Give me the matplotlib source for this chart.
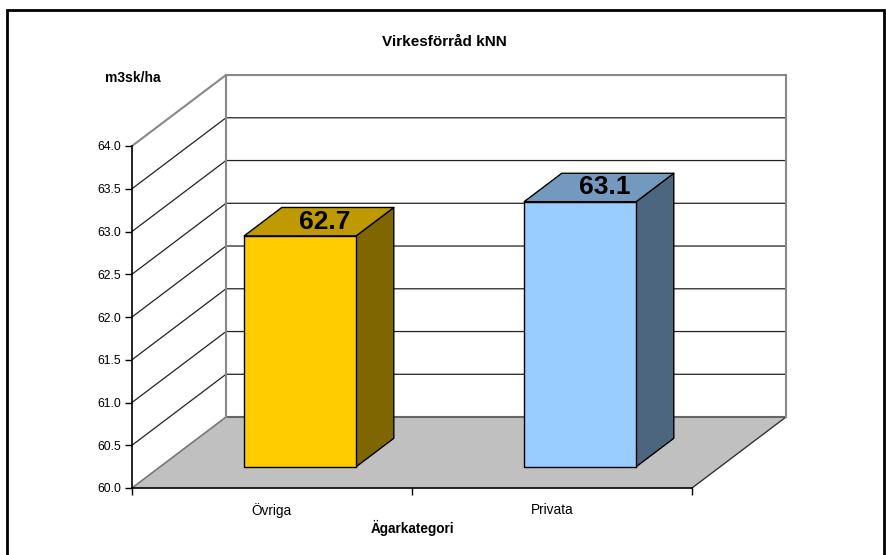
import numpy as np
import matplotlib
matplotlib.use('agg')
import matplotlib.pyplot as plt
from matplotlib.patches import Polygon, Rectangle

plt.rcParams['font.family'] = ['Liberation Sans', 'DejaVu Sans']

# data
categories = ['Övriga', 'Privata']
values = [62.7, 63.1]
front_colors = ['#FFCC00', '#99CCFF']
top_colors = ['#BF9900', '#7399BF']
side_colors = ['#806600', '#4D6680']
yticks = [60.0, 60.5, 61.0, 61.5, 62.0, 62.5, 63.0, 63.5, 64.0]

ymin, ymax = 60.0, 64.0
DX, DY = 0.3357, 0.83     # depth offset of the back wall, in data units
F0, F1 = 0.3, 0.7         # bar depth span as fraction of the full depth
HW = 0.2                  # half bar width

fig = plt.figure(figsize=(8.86, 5.55), dpi=100)
ax = fig.add_axes([132/886, 1-488/555, 560/886, 342/555])
ax.set_xlim(0, 2)
ax.set_ylim(ymin, ymax)
ax.patch.set_visible(False)
for s in ['top', 'right']:
    ax.spines[s].set_visible(False)
ax.spines['left'].set_linewidth(1.2)
ax.spines['bottom'].set_linewidth(1.2)
ax.spines['left'].set_zorder(6)
ax.spines['bottom'].set_zorder(6)

# floor
floor = Polygon([(0, ymin), (2, ymin), (2+DX, ymin+DY), (DX, ymin+DY)],
                closed=True, fc='#C0C0C0', ec='none', zorder=1, clip_on=False)
ax.add_patch(floor)
ax.plot([DX, 2+DX], [ymin+DY, ymin+DY], color='#666666', lw=1.5, zorder=1.5, clip_on=False)
ax.plot([0, DX], [ymin, ymin+DY], color='#777777', lw=1.2, zorder=1.5, clip_on=False)
ax.plot([2, 2+DX], [ymin, ymin+DY], color='#333333', lw=1, zorder=1.5, clip_on=False)

# walls and gridlines
for v in yticks[1:]:
    c = '#888888' if v == ymax else '#222222'
    lw = 1.5 if v == ymax else 0.9
    ax.plot([0, DX, 2+DX], [v, v+DY, v+DY], color=c, lw=lw, zorder=1.5, clip_on=False)
ax.plot([DX, DX], [ymin+DY, ymax+DY], color='#888888', lw=1.5, zorder=1.5, clip_on=False)
ax.plot([2+DX, 2+DX], [ymin+DY, ymax+DY], color='#888888', lw=1.5, zorder=1.5, clip_on=False)

# 3d bars
for i, v in enumerate(values):
    c = i + 0.5
    xl, xr = c-HW, c+HW
    front = [(xl+F0*DX, ymin+F0*DY), (xr+F0*DX, ymin+F0*DY),
             (xr+F0*DX, v+F0*DY), (xl+F0*DX, v+F0*DY)]
    top = [(xl+F0*DX, v+F0*DY), (xr+F0*DX, v+F0*DY),
           (xr+F1*DX, v+F1*DY), (xl+F1*DX, v+F1*DY)]
    side = [(xr+F0*DX, ymin+F0*DY), (xr+F1*DX, ymin+F1*DY),
            (xr+F1*DX, v+F1*DY), (xr+F0*DX, v+F0*DY)]
    for pts, col in [(side, side_colors[i]), (top, top_colors[i]), (front, front_colors[i])]:
        ax.add_patch(Polygon(pts, closed=True, fc=col, ec='black', lw=1,
                             joinstyle='round', zorder=3, clip_on=False))
    ax.text(c+0.5*DX+0.02, v+0.5*DY, f'{v:.1f}', ha='center', va='center',
            fontsize=19, fontweight='bold', zorder=5, clip_on=False)

# axes ticks and labels
ax.set_yticks(yticks)
ax.set_yticklabels([f'{t:.1f}' for t in yticks])
ax.tick_params(axis='y', direction='out', length=5, width=1, labelsize=8.8, pad=3)
ax.set_xticks([0, 1, 2])
ax.set_xticklabels([])
ax.set_xticks([0.5, 1.5], minor=True)
ax.set_xticklabels(categories, minor=True)
ax.tick_params(axis='x', which='major', direction='out', length=5, width=1)
ax.tick_params(axis='x', which='minor', length=0, labelsize=9.8, pad=11)
ax.set_xlabel('Ägarkategori', fontsize=9.8, fontweight='bold', labelpad=1)

fig.text(444/886, 1-42/555, 'Virkesförråd kNN', ha='center', va='center',
         fontsize=11, fontweight='bold')
fig.text(133/886, 1-78/555, 'm3sk/ha', ha='center', va='center',
         fontsize=10, fontweight='bold')

fig.add_artist(Rectangle((7/886, -0.1), 877/886, 1-10/555+0.1, transform=fig.transFigure,
                         fill=False, ec='black', lw=2))

fig.savefig('out.png', dpi=100)
